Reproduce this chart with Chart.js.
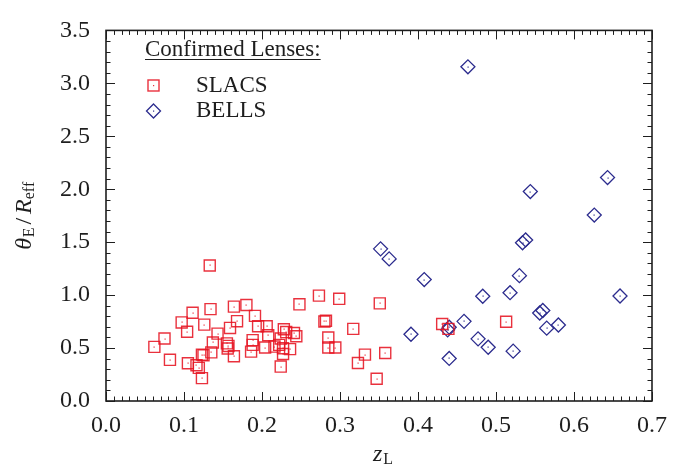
<!DOCTYPE html>
<html>
<head>
<meta charset="utf-8">
<script src="https://cdn.jsdelivr.net/npm/chart.js@4/dist/chart.umd.min.js"></script>
<style>
  html, body { margin: 0; padding: 0; background: #fff; }
  #wrap { width: 685px; height: 470px; }
</style>
</head>
<body>
<div id="wrap"><canvas id="c" width="685" height="470"></canvas></div>
<script>
// Lens redshift z_L and Einstein radius / effective radius ratio
const slacsZ = [
  0.133, 0.111, 0.134, 0.164, 0.180, 0.191, 0.097, 0.126, 0.168, 0.159,
  0.104, 0.195, 0.206, 0.208, 0.075, 0.143, 0.062, 0.137, 0.155, 0.157,
  0.188, 0.188, 0.156, 0.186, 0.204, 0.135, 0.164, 0.123, 0.125, 0.082,
  0.105, 0.116, 0.119, 0.123, 0.248, 0.273, 0.299, 0.351, 0.282, 0.280,
  0.317, 0.228, 0.231, 0.241, 0.244, 0.224, 0.285, 0.285, 0.294, 0.216,
  0.222, 0.227, 0.236, 0.227, 0.224, 0.332, 0.358, 0.323, 0.347, 0.431,
  0.439, 0.513
];
const slacsRatio = [
  1.280, 0.834, 0.868, 0.891, 0.907, 0.804, 0.742, 0.721, 0.754, 0.690,
  0.654, 0.706, 0.706, 0.621, 0.590, 0.636, 0.511, 0.553, 0.544, 0.520,
  0.575, 0.530, 0.496, 0.466, 0.505, 0.459, 0.423, 0.438, 0.432, 0.389,
  0.356, 0.338, 0.313, 0.216, 0.913, 0.995, 0.965, 0.922, 0.758, 0.751,
  0.681, 0.678, 0.651, 0.642, 0.612, 0.590, 0.599, 0.505, 0.505, 0.514,
  0.530, 0.499, 0.490, 0.444, 0.325, 0.438, 0.453, 0.359, 0.210, 0.727,
  0.681, 0.749
];
const bellsZ = [
  0.464, 0.643, 0.544, 0.626, 0.538, 0.534, 0.352, 0.363, 0.530, 0.408,
  0.483, 0.518, 0.659, 0.459, 0.556, 0.560, 0.565, 0.580, 0.391, 0.438,
  0.440, 0.477, 0.490, 0.522, 0.440
];
const bellsRatio = [
  3.156, 2.110, 1.978, 1.756, 1.521, 1.494, 1.437, 1.342, 1.184, 1.147,
  0.989, 1.023, 0.992, 0.752, 0.831, 0.855, 0.688, 0.718, 0.630, 0.672,
  0.697, 0.587, 0.508, 0.471, 0.402
];
const seriesNames = ['SLACS', 'BELLS'];
const legendTitle = 'Confirmed Lenses:';

const FONT = '"Liberation Serif", "Times New Roman", serif';
const INK = '#1e1e1e';
const RED = 'rgba(230, 20, 34, 0.88)';
const BLUE = '#2c2c8e';

const toPoints = (xs, ys) => xs.map((v, i) => ({ x: v, y: ys[i] }));

// Frame with inward major/minor ticks on all four sides
const frameTicks = {
  id: 'frameTicks',
  afterDraw(chart) {
    const { ctx, chartArea: a, scales: { x, y } } = chart;
    ctx.save();
    ctx.strokeStyle = INK;
    ctx.lineWidth = 1;
    ctx.beginPath();
    for (let i = 0; i <= 70; i++) {
      const px = Math.round(x.getPixelForValue(i / 100)) + 0.5;
      const len = i % 10 === 0 ? 9 : 4.5;
      ctx.moveTo(px, a.bottom); ctx.lineTo(px, a.bottom - len);
      ctx.moveTo(px, a.top); ctx.lineTo(px, a.top + len);
    }
    for (let i = 0; i <= 35; i++) {
      const py = Math.round(y.getPixelForValue(i / 10)) + 0.5;
      const len = i % 5 === 0 ? 9 : 4.5;
      ctx.moveTo(a.left, py); ctx.lineTo(a.left + len, py);
      ctx.moveTo(a.right, py); ctx.lineTo(a.right - len, py);
    }
    ctx.stroke();
    ctx.lineWidth = 1.6;
    ctx.strokeRect(a.left, a.top, a.right - a.left, a.bottom - a.top);
    ctx.restore();
  }
};

// Tiny dot at the centre of every marker
const centreDots = {
  id: 'centreDots',
  afterDatasetsDraw(chart) {
    const ctx = chart.ctx;
    ctx.save();
    chart.data.datasets.forEach((ds, di) => {
      ctx.fillStyle = ds.borderColor;
      chart.getDatasetMeta(di).data.forEach(el => {
        ctx.fillRect(Math.round(el.x) - 0.5, Math.round(el.y) - 0.5, 1.2, 1.2);
      });
    });
    ctx.restore();
  }
};

function drawSquare(ctx, cx, cy, half, color) {
  ctx.strokeStyle = color; ctx.lineWidth = 1.4;
  ctx.strokeRect(cx - half, cy - half, 2 * half, 2 * half);
  ctx.fillStyle = color; ctx.fillRect(cx - 0.5, cy - 0.5, 1.2, 1.2);
}
function drawDiamond(ctx, cx, cy, r, color) {
  ctx.strokeStyle = color; ctx.lineWidth = 1.3;
  ctx.beginPath();
  ctx.moveTo(cx, cy - r); ctx.lineTo(cx + r, cy); ctx.lineTo(cx, cy + r); ctx.lineTo(cx - r, cy);
  ctx.closePath(); ctx.stroke();
  ctx.fillStyle = color; ctx.fillRect(cx - 0.5, cy - 0.5, 1.2, 1.2);
}

// Axis titles with sub-scripts, plus the in-plot legend
const annotations = {
  id: 'annotations',
  afterDraw(chart) {
    const { ctx, chartArea: a } = chart;
    ctx.save();
    ctx.fillStyle = INK;
    ctx.textBaseline = 'alphabetic';
    ctx.textAlign = 'left';

    // x title: z_L
    const big = 'italic 24px ' + FONT, sub = '16px ' + FONT;
    ctx.font = big; const wz = ctx.measureText('z').width;
    ctx.font = sub; const wl = ctx.measureText('L').width;
    let x0 = (a.left + a.right) / 2 + 4 - (wz + wl + 1) / 2;
    ctx.font = big; ctx.fillText('z', x0, 461);
    ctx.font = sub; ctx.fillText('L', x0 + wz + 1, 464);

    // y title: θ_E / R_eff (rotated)
    ctx.translate(31, (a.top + a.bottom) / 2);
    ctx.rotate(-Math.PI / 2);
    const parts = [
      { t: '\u03B8', f: big, dy: 0, gap: 0.5 },
      { t: 'E', f: sub, dy: 3, gap: 3 },
      { t: '/', f: '24px ' + FONT, dy: 0, gap: 4 },
      { t: 'R', f: big, dy: 0, gap: 0 },
      { t: 'eff', f: sub, dy: 3, gap: 0 }
    ];
    let total = 0;
    parts.forEach(p => { ctx.font = p.f; p.w = ctx.measureText(p.t).width; total += p.w + p.gap; });
    let cx = -total / 2;
    parts.forEach(p => { ctx.font = p.f; ctx.fillText(p.t, cx, p.dy); cx += p.w + p.gap; });
    ctx.setTransform(1, 0, 0, 1, 0, 0);

    // legend
    ctx.font = '23px ' + FONT;
    ctx.fillStyle = INK;
    ctx.fillText(legendTitle, 145, 56);
    const tw = ctx.measureText(legendTitle).width;
    ctx.strokeStyle = INK; ctx.lineWidth = 1;
    ctx.beginPath(); ctx.moveTo(145, 59.5); ctx.lineTo(145 + tw, 59.5); ctx.stroke();
    ctx.fillText(seriesNames[0], 196, 92);
    ctx.fillText(seriesNames[1], 196, 117);
    drawSquare(ctx, 153.5, 85.5, 5.5, RED);
    drawDiamond(ctx, 153.5, 111, 7, BLUE);
    ctx.restore();
  }
};

function build() {
  new Chart(document.getElementById('c'), {
    type: 'scatter',
    data: {
      datasets: [
        {
          label: seriesNames[0],
          data: toPoints(slacsZ, slacsRatio),
          pointStyle: 'rect',
          pointRadius: 7.8,
          pointHoverRadius: 7.8,
          borderColor: RED,
          backgroundColor: 'rgba(0,0,0,0)',
          pointBorderWidth: 1.4
        },
        {
          label: seriesNames[1],
          data: toPoints(bellsZ, bellsRatio),
          pointStyle: 'rectRot',
          pointRadius: 7,
          pointHoverRadius: 7,
          borderColor: BLUE,
          backgroundColor: 'rgba(0,0,0,0)',
          pointBorderWidth: 1.3
        }
      ]
    },
    options: {
      responsive: false,
      animation: false,
      devicePixelRatio: 1,
      layout: { padding: { left: 0, right: 33, top: 18, bottom: 0 } },
      plugins: { legend: { display: false }, tooltip: { enabled: false } },
      scales: {
        x: {
          type: 'linear', min: 0, max: 0.7,
          grid: { display: false, drawTicks: false }, border: { display: false },
          ticks: {
            stepSize: 0.1, padding: 10, color: INK,
            font: { family: FONT, size: 24 },
            callback: v => v.toFixed(1), maxRotation: 0
          },
          afterFit: s => { s.height = 69; }
        },
        y: {
          type: 'linear', min: 0, max: 3.5,
          grid: { display: false, drawTicks: false }, border: { display: false },
          ticks: {
            stepSize: 0.5, padding: 16, color: INK,
            font: { family: FONT, size: 24 },
            callback: v => v.toFixed(1)
          },
          afterFit: s => { s.width = 106; }
        }
      }
    },
    plugins: [frameTicks, centreDots, annotations]
  });
}

if (document.fonts && document.fonts.load) {
  Promise.all([
    document.fonts.load('24px "Liberation Serif"'),
    document.fonts.load('italic 24px "Liberation Serif"')
  ]).then(build, build);
} else {
  build();
}
</script>
</body>
</html>
